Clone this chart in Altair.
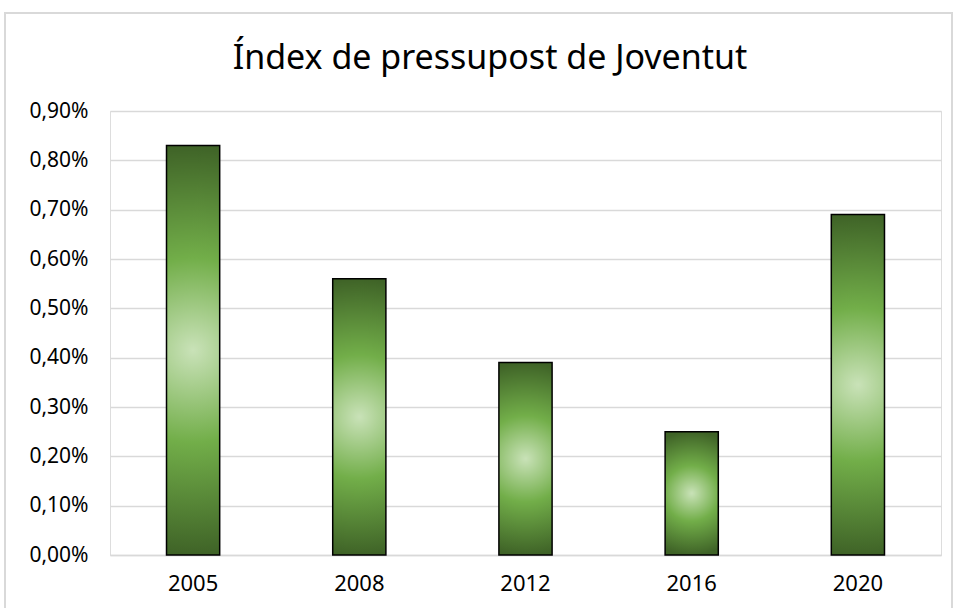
import altair as alt
import pandas as pd

years = ["2005", "2008", "2012", "2016", "2020"]
values = [0.0083, 0.0056, 0.0039, 0.0025, 0.0069]
y_ticks = [0.0, 0.001, 0.002, 0.003, 0.004, 0.005, 0.006, 0.007, 0.008, 0.009]
title_text = "Índex de pressupost de Joventut"

df = pd.DataFrame({"year": years, "value": values})

FONT = "Noto Sans"

grad = {
    "gradient": "radial",
    "x1": 0.5, "y1": 0.5, "r1": 0,
    "x2": 0.5, "y2": 0.5, "r2": 0.5,
    "stops": [
        {"offset": 0.0, "color": "#c9e2b8"},
        {"offset": 0.45, "color": "#72ae49"},
        {"offset": 1.0, "color": "#3f6327"},
    ],
}

frame = alt.Chart(df).mark_rect(fill="transparent", stroke="#d9d9d9", strokeWidth=1.5).encode(
    x=alt.value(-105), x2=alt.value(842), y=alt.value(-98), y2=alt.value(540)
)

title = alt.Chart(pd.DataFrame({"t": [title_text]})).mark_text(
    font=FONT, fontSize=34, color="#000000", align="center", baseline="alphabetic"
).encode(text="t:N", x=alt.value(380), y=alt.value(-42))

bars = alt.Chart(df).mark_bar(fill=grad, stroke="black", strokeWidth=1.5).encode(
    x=alt.X("year:N", sort=years,
            scale=alt.Scale(paddingInner=0.68, paddingOuter=0.34),
            axis=alt.Axis(title=None, labelAngle=0, labelFont=FONT, labelFontSize=22,
                          labelColor="#000000", labelPadding=18, ticks=False,
                          domain=True, domainColor="#d9d9d9", domainWidth=1.5)),
    y=alt.Y("value:Q", scale=alt.Scale(domain=[0, 0.009], nice=False),
            axis=alt.Axis(title=None, values=y_ticks,
                          labelExpr="replace(format(datum.value, '.2%'), '.', ',')",
                          labelFont=FONT, labelFontSize=21, labelColor="#000000",
                          labelPadding=22, ticks=False, domain=False,
                          grid=True, gridColor="#d9d9d9", gridWidth=1.5)),
)

chart = alt.layer(frame, bars, title).properties(
    width=831, height=444,
    autosize=alt.AutoSizeParams(type="none"),
    padding={"left": 110, "top": 111, "right": 16, "bottom": 53},
).configure_view(strokeWidth=0).configure(background="white")

chart.save("out.html", embed_options={"renderer": "svg", "actions": False})
